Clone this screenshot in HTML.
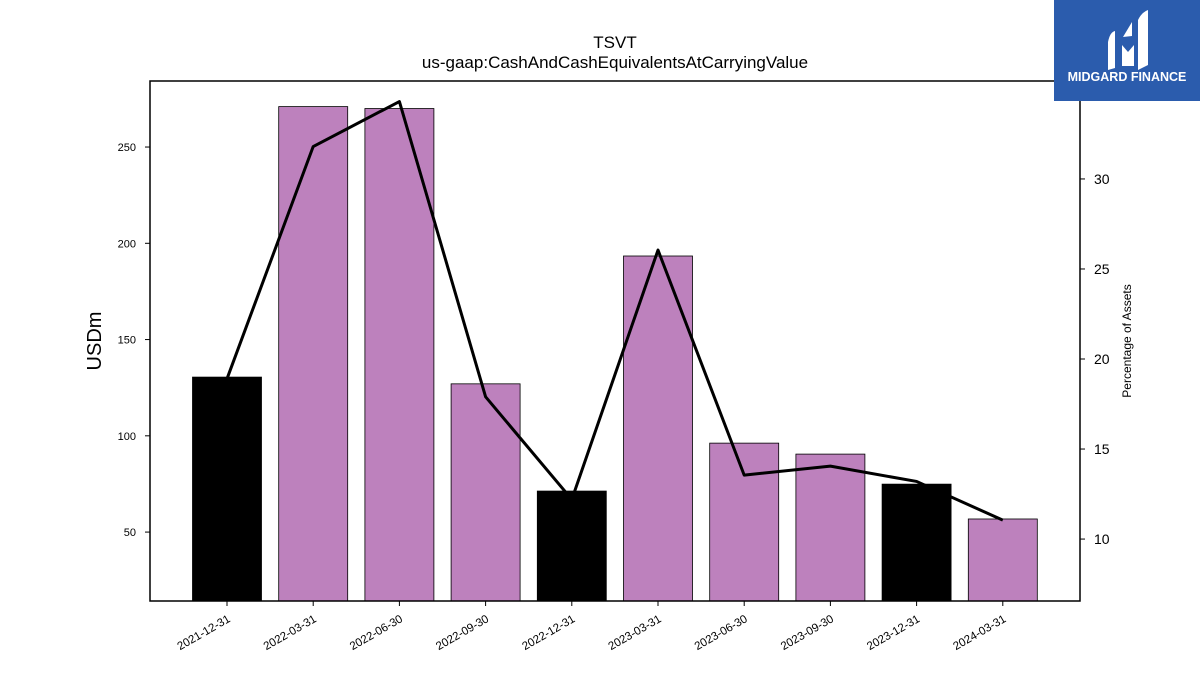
<!DOCTYPE html>
<html><head><meta charset="utf-8"><style>
body{margin:0;background:#fff;font-family:"Liberation Sans","DejaVu Sans",sans-serif;}
#wrap{position:relative;width:1200px;height:675px;overflow:hidden;}
</style></head><body><div id="wrap">
<svg id="chart" width="1200" height="675" xmlns="http://www.w3.org/2000/svg">
<text x="615" y="48" text-anchor="middle" font-size="17">TSVT</text>
<text x="615" y="68" text-anchor="middle" font-size="17">us-gaap:CashAndCashEquivalentsAtCarryingValue</text>
<text transform="translate(101,341) rotate(-90)" text-anchor="middle" font-size="20">USDm</text>
<text transform="translate(1131,341) rotate(-90)" text-anchor="middle" font-size="12">Percentage of Assets</text>
<g id="bars"></g><g id="line"></g><g id="axes"></g>
<g>
<rect x="1054" y="0" width="146" height="101" fill="#2b5cad"/>
<path d="M1108 70 L1108 42 Q1110 32 1115 31 L1115 68 Z" fill="#fff"/>
<path d="M1122 66 L1122 45 L1128 52 L1134 45 L1134 66 Z" fill="#fff"/>
<path d="M1123 37 L1132 22 L1132 36 Z" fill="#fff"/>
<path d="M1138 70 L1138 20 Q1142 12 1148 10 L1148 65 Z" fill="#fff"/>
<text x="1127" y="81" text-anchor="middle" font-size="12.5" font-weight="bold" fill="#fff">MIDGARD FINANCE</text>
</g>
</svg>
<script>
const categories=["2021-12-31","2022-03-31","2022-06-30","2022-09-30","2022-12-31","2023-03-31","2023-06-30","2023-09-30","2023-12-31","2024-03-31"];
const cashValues=[130.5,271,270,127,71.3,193.4,96.2,90.5,74.9,56.8];
const pctValues=[18.9,31.8,34.3,17.9,12.2,26.05,13.55,14.05,13.2,11.05];
const yTicks=[50,100,150,200,250];
const y2Ticks=[10,15,20,25,30];
const yearEnd=[true,false,false,false,true,false,false,false,true,false];
const L=150,R=1080,T=81,B=601;
const yMin=14.2,yMax=284.3,y2Min=6.56,y2Max=35.44;
const y=v=>B-(v-yMin)/(yMax-yMin)*(B-T);
const y2=v=>B-(v-y2Min)/(y2Max-y2Min)*(B-T);
const step=86.2,x=i=>227+i*step;
const NS="http://www.w3.org/2000/svg";
function mk(tag,attrs,parent){const e=document.createElementNS(NS,tag);for(const k in attrs)e.setAttribute(k,attrs[k]);parent.appendChild(e);return e;}
const bars=document.getElementById('bars'),line=document.getElementById('line'),axes=document.getElementById('axes');
cashValues.forEach((v,i)=>{
 const r=mk('rect',{x:x(i)-34.5,y:y(v),width:69,height:B-y(v),fill:yearEnd[i]?'#000':'#bd81bd',stroke:'#000','stroke-width':0.8},bars);
 
 
});
const pl=mk('polyline',{points:pctValues.map((v,i)=>x(i)+','+y2(v)).join(' '),fill:'none',stroke:'#000','stroke-width':3,'stroke-linejoin':'round'},line);


const fr=mk('rect',{x:L,y:T,width:R-L,height:B-T,fill:'none',stroke:'#000','stroke-width':1.5},axes);


yTicks.forEach(t=>{
 mk('line',{x1:L-5,x2:L,y1:y(t),y2:y(t),stroke:'#000'},axes);
 const tx=mk('text',{x:L-14,y:y(t)+4,'text-anchor':'end','font-size':11},axes);tx.textContent=t;
 
 
});
y2Ticks.forEach(t=>{
 mk('line',{x1:R,x2:R+5,y1:y2(t),y2:y2(t),stroke:'#000'},axes);
 const tx=mk('text',{x:R+14,y:y2(t)+5,'font-size':14},axes);tx.textContent=t;
 
 
});
categories.forEach((c,i)=>{
 mk('line',{x1:x(i),x2:x(i),y1:B,y2:B+5,stroke:'#000'},axes);
 const tx=mk('text',{transform:`translate(${x(i)+4},${B+20}) rotate(-30)`,'text-anchor':'end','font-size':11.5},axes);tx.textContent=c;
 
 
});
</script></div></body></html>
